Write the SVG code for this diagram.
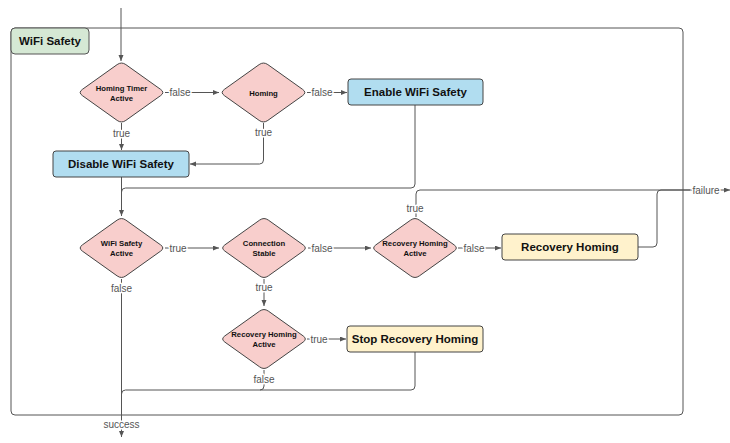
<svg xmlns="http://www.w3.org/2000/svg" width="730" height="443" viewBox="0 0 730 443">
<style>
.bg{fill:#ffffff}
.cont{fill:none;stroke:#555;stroke-width:1}
.title{fill:#d5e8d4;stroke:#555;stroke-width:1}
.dia{fill:#f8cecc;stroke:#444;stroke-width:1}
.blue{fill:#b1ddf0;stroke:#444;stroke-width:1}
.yel{fill:#fff2cc;stroke:#444;stroke-width:1}
.edge{fill:none;stroke:#555;stroke-width:1}
.dt{font-family:"Liberation Sans",Arial,sans-serif;font-size:7.7px;font-weight:bold;fill:#111;text-anchor:middle}
.bt{font-family:"Liberation Sans",Arial,sans-serif;font-size:11.5px;font-weight:bold;fill:#111;text-anchor:middle}
.lbl{font-family:"Liberation Sans",Arial,sans-serif;font-size:10px;fill:#555;text-anchor:middle;stroke:#fff;stroke-width:3px;paint-order:stroke;stroke-linejoin:round}
</style>
<defs>
<marker id="arr" markerUnits="userSpaceOnUse" markerWidth="6" markerHeight="6" refX="6" refY="2.5" orient="auto">
<path d="M0,0 L6,2.5 L0,5 Z" fill="#555"/>
</marker>
<path id="diamond" d="M-4.35,-27.9 Q0,-31 4.35,-27.9 L39.15,-3.1 Q43.5,0 39.15,3.1 L4.35,27.9 Q0,31 -4.35,27.9 L-39.15,3.1 Q-43.5,0 -39.15,-3.1 Z"/>
</defs>
<rect class="bg" x="0" y="0" width="730" height="443"/>

<g id="container">
<rect class="cont" x="11" y="28" width="672" height="387" rx="4"/>
<rect class="title" x="11" y="28" width="78" height="26" rx="4"/>
<text class="bt" x="50" y="45">WiFi Safety</text>
</g>

<g id="connectors">
<path class="edge" d="M121,8 V61" marker-end="url(#arr)"/>
<path class="edge" d="M165,92.5 H219" marker-end="url(#arr)"/>
<path class="edge" d="M121.5,123 V150" marker-end="url(#arr)"/>
<path class="edge" d="M307,92.5 H347" marker-end="url(#arr)"/>
<path class="edge" d="M263.5,123 V160 Q263.5,164 259.5,164 H190" marker-end="url(#arr)"/>
<path class="edge" d="M121.5,177 V216" marker-end="url(#arr)"/>
<path class="edge" d="M415,105 V184 Q415,188 411,188 H125.5 Q121.5,188 121.5,192"/>
<path class="edge" d="M165,248 H219" marker-end="url(#arr)"/>
<path class="edge" d="M121.5,279 V437" marker-end="url(#arr)"/>
<path class="edge" d="M308,248 H371" marker-end="url(#arr)"/>
<path class="edge" d="M264,279 V306" marker-end="url(#arr)"/>
<path class="edge" d="M458,248 H501" marker-end="url(#arr)"/>
<path class="edge" d="M416,217 V194 Q416,190 420,190 H730" marker-end="url(#arr)"/>
<path class="edge" d="M638,247 H653 Q657,247 657,243 V194 Q657,190 661,190 H690"/>
<path class="edge" d="M307,339 H346" marker-end="url(#arr)"/>
<path class="edge" d="M264,370 V386 Q264,390 260,390 H125.5 Q121.5,390 121.5,394"/>
<path class="edge" d="M415,352 V386 Q415,390 411,390 H260"/>
<text class="lbl" x="180" y="96">false</text>
<text class="lbl" x="121.5" y="137">true</text>
<text class="lbl" x="322" y="96">false</text>
<text class="lbl" x="263.5" y="136">true</text>
<text class="lbl" x="178" y="251.5">true</text>
<text class="lbl" x="121.5" y="292">false</text>
<text class="lbl" x="322" y="251.5">false</text>
<text class="lbl" x="264" y="291">true</text>
<text class="lbl" x="474" y="251.5">false</text>
<text class="lbl" x="415" y="212">true</text>
<text class="lbl" x="706" y="193.5">failure</text>
<text class="lbl" x="319" y="342.5">true</text>
<text class="lbl" x="264" y="383">false</text>
<text class="lbl" x="121.5" y="428">success</text>
</g>

<g id="homing-timer-active">
<use href="#diamond" class="dia" transform="translate(121.5,92.5)"/>
<text class="dt" x="121.5" y="90.5">Homing Timer</text>
<text class="dt" x="121.5" y="100.5">Active</text>
</g>
<g id="homing">
<use href="#diamond" class="dia" transform="translate(263.5,92.5)"/>
<text class="dt" x="263.5" y="95.5">Homing</text>
</g>
<g id="enable-wifi-safety">
<rect class="blue" x="348" y="79" width="135" height="26" rx="3"/>
<text class="bt" x="415.5" y="96">Enable WiFi Safety</text>
</g>
<g id="disable-wifi-safety">
<rect class="blue" x="53" y="151" width="136" height="26" rx="3"/>
<text class="bt" x="121" y="168">Disable WiFi Safety</text>
</g>
<g id="wifi-safety-active">
<use href="#diamond" class="dia" transform="translate(121.5,248)"/>
<text class="dt" x="121.5" y="246">WiFi Safety</text>
<text class="dt" x="121.5" y="256">Active</text>
</g>
<g id="connection-stable">
<use href="#diamond" class="dia" transform="translate(264,248)"/>
<text class="dt" x="264" y="246">Connection</text>
<text class="dt" x="264" y="256">Stable</text>
</g>
<g id="recovery-homing-active">
<use href="#diamond" class="dia" transform="translate(415,248)"/>
<text class="dt" x="415" y="246">Recovery Homing</text>
<text class="dt" x="415" y="256">Active</text>
</g>
<g id="recovery-homing">
<rect class="yel" x="502" y="234" width="136" height="26" rx="3"/>
<text class="bt" x="570" y="251">Recovery Homing</text>
</g>
<g id="recovery-homing-active-2">
<use href="#diamond" class="dia" transform="translate(264,339)"/>
<text class="dt" x="264" y="337">Recovery Homing</text>
<text class="dt" x="264" y="347">Active</text>
</g>
<g id="stop-recovery-homing">
<rect class="yel" x="347" y="326" width="136" height="26" rx="3"/>
<text class="bt" x="415" y="343">Stop Recovery Homing</text>
</g>
</svg>
